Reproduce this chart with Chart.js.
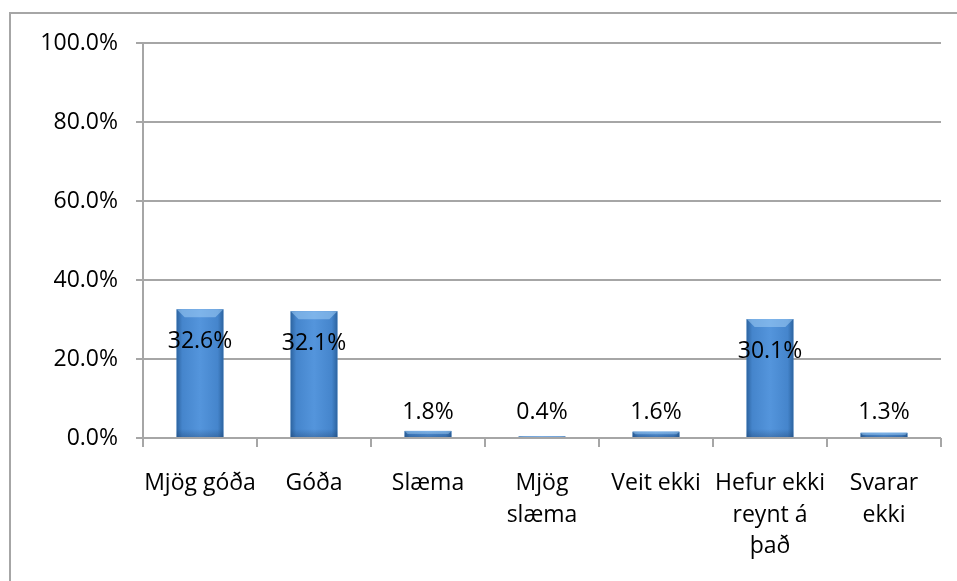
<!DOCTYPE html>
<html>
<head>
<meta charset="utf-8">
<script src="https://cdn.jsdelivr.net/npm/chart.js@4/dist/chart.umd.min.js"></script>
<style>
  html, body { margin: 0; padding: 0; background: #fff; overflow: hidden; }
  #frame { position: absolute; left: 9px; top: 12px; width: 1000px; height: 700px; border: 2px solid #a6a6a6; }
  #wrap { position: absolute; left: 0; top: 0; width: 957px; height: 581px; }
</style>
</head>
<body>
<div id="frame"></div>
<div id="wrap"><canvas id="myChart" width="957" height="581"></canvas></div>
<script>
const categories = ["Mjög góða", "Góða", "Slæma", ["Mjög", "slæma"], "Veit ekki", ["Hefur ekki", "reynt á", "það"], ["Svarar", "ekki"]];
const shares = [32.6, 32.1, 1.8, 0.4, 1.6, 30.1, 1.3];
const yTicks = [0, 20, 40, 60, 80, 100];

const gridColor = "#a6a6a6";
const fontFamily = "'Open Sans', sans-serif";

// paint the bevelled Excel-style column over each bar
const barShading = {
  id: "barShading",
  afterDatasetsDraw(chart) {
    const ctx = chart.ctx;
    ctx.save();
    chart.getDatasetMeta(0).data.forEach((bar) => {
      const left = bar.x - bar.width / 2;
      const right = bar.x + bar.width / 2;
      const hgt = bar.base - bar.y;
      const g = ctx.createLinearGradient(left, 0, right, 0);
      g.addColorStop(0, "#2d64a0");
      g.addColorStop(0.12, "#4585cc");
      g.addColorStop(0.5, "#5495dc");
      g.addColorStop(0.88, "#4585cc");
      g.addColorStop(1, "#2d64a0");
      ctx.fillStyle = g;
      ctx.fillRect(left, bar.y, bar.width, hgt);
      const h = Math.min(8, hgt / 2);
      ctx.fillStyle = "rgba(160,205,245,0.55)";
      ctx.beginPath();
      ctx.moveTo(left, bar.y);
      ctx.lineTo(right, bar.y);
      ctx.lineTo(right - h, bar.y + h);
      ctx.lineTo(left + h, bar.y + h);
      ctx.closePath();
      ctx.fill();
      const bh = Math.min(8, hgt);
      const gb = ctx.createLinearGradient(0, bar.base - bh, 0, bar.base);
      gb.addColorStop(0, "rgba(20,50,90,0)");
      gb.addColorStop(1, "rgba(20,50,90,0.3)");
      ctx.fillStyle = gb;
      ctx.fillRect(left, bar.base - bh, bar.width, bh);
    });
    ctx.restore();
  },
};

// value labels: inside near the top for tall bars, above for short ones
const valueLabels = {
  id: "valueLabels",
  afterDatasetsDraw(chart) {
    const ctx = chart.ctx;
    const y = chart.scales.y;
    ctx.save();
    ctx.fillStyle = "#000";
    ctx.font = "23px " + fontFamily;
    ctx.textAlign = "center";
    ctx.textBaseline = "middle";
    chart.getDatasetMeta(0).data.forEach((bar, i) => {
      const v = shares[i];
      const ty = v > 10 ? y.getPixelForValue(v) + 32 : y.getPixelForValue(0) - 26;
      ctx.fillText(v.toFixed(1) + "%", bar.x, ty);
    });
    ctx.restore();
  },
};

const initChart = () => {
  const ctx = document.getElementById("myChart").getContext("2d");
  new Chart(ctx, {
    type: "bar",
    data: {
      labels: categories,
      datasets: [
        {
          data: shares,
          backgroundColor: "#4a8ed4",
          borderWidth: 0,
          barPercentage: 0.41,
          categoryPercentage: 1,
        },
      ],
    },
    options: {
      responsive: false,
      animation: false,
      layout: { padding: { left: 0, right: 16, top: 43, bottom: 0 } },
      plugins: {
        legend: { display: false },
        tooltip: { enabled: false },
      },
      scales: {
        x: {
          offset: true,
          grid: {
            offset: true,
            drawOnChartArea: false,
            color: gridColor,
            lineWidth: 2,
            tickLength: 9,
          },
          border: { display: false },
          ticks: {
            color: "#000",
            padding: 20,
            maxRotation: 0,
            autoSkip: false,
            font: { family: fontFamily, size: 23, lineHeight: 1.39 },
          },
          afterFit(scale) { scale.height = 143; },
        },
        y: {
          min: 0,
          max: 100,
          afterBuildTicks(scale) { scale.ticks = yTicks.map((v) => ({ value: v })); },
          grid: { color: gridColor, lineWidth: 2, tickLength: 7 },
          border: { display: true, color: gridColor, width: 2 },
          ticks: {
            color: "#000",
            padding: 18,
            font: { family: fontFamily, size: 23 },
            callback: (v) => v.toFixed(1) + "%",
          },
          afterFit(scale) { scale.width = 143; },
        },
      },
    },
    plugins: [barShading, valueLabels],
  });
};

initChart();
</script>
</body>
</html>
